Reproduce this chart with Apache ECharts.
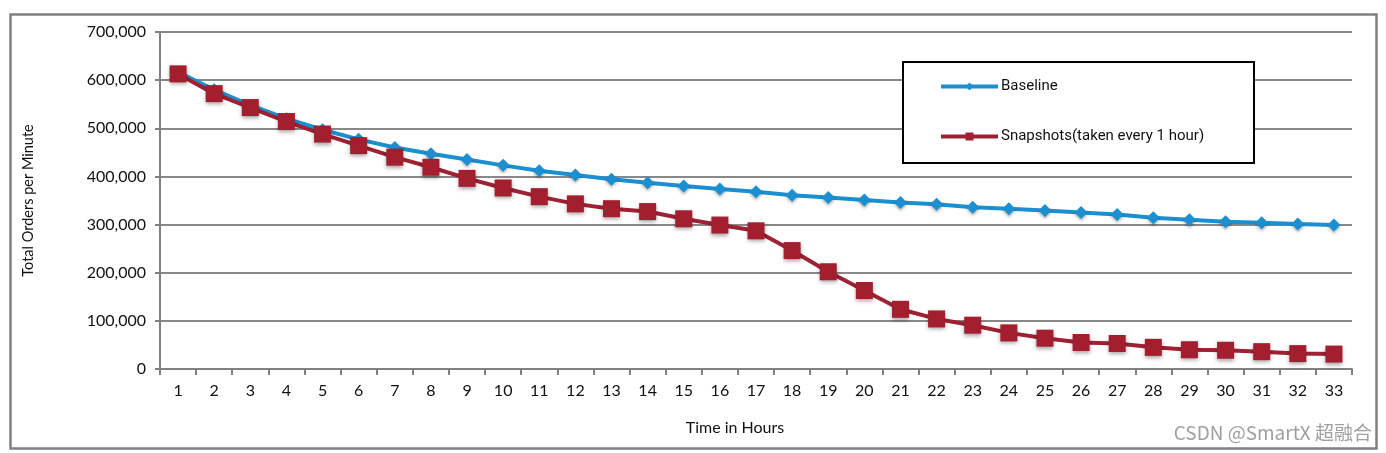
<!DOCTYPE html>
<html>
<head>
<meta charset="utf-8">
<script src="https://cdn.jsdelivr.net/npm/echarts@6/dist/echarts.min.js"></script>
<style>
html,body{margin:0;padding:0;background:#fff;}
#main{width:1386px;height:453px;}
</style>
</head>
<body>
<div id="main"></div>
<script>
var categories = ['1','2','3','4','5','6','7','8','9','10','11','12','13','14','15','16','17','18','19','20','21','22','23','24','25','26','27','28','29','30','31','32','33'];
var baseline = [617000,580000,548000,520000,497000,477000,460000,447000,435000,423000,412000,403000,394000,387000,380000,374000,368000,361000,356000,351000,346000,342000,336000,333000,329000,325000,321000,314000,310000,306000,304000,301000,299000];
var snapshots = [613000,572000,543000,514000,488000,464000,440000,419000,396000,376000,358000,343000,333000,327000,312000,299000,287000,246000,202000,163000,124000,104000,91000,75000,64000,55000,53000,45000,40000,39000,36000,32000,31000];
var yTicks = [0,100000,200000,300000,400000,500000,600000,700000];

var font = 'Lato, "Noto Sans", sans-serif';
var chart = echarts.init(document.getElementById('main'), null, {renderer:'canvas'});
chart.setOption({
  animation: false,
  backgroundColor: '#fff',
  grid: {left:160, right:34, top:32, bottom:84, containLabel:false},
  xAxis: {
    type: 'category',
    data: categories,
    boundaryGap: true,
    axisLine: {lineStyle:{color:'#808080', width:2}},
    axisTick: {show:true, length:6, lineStyle:{color:'#808080', width:2}, alignWithLabel:false},
    axisLabel: {color:'#111', fontSize:16, fontFamily:font, margin:14, interval:0}
  },
  yAxis: {
    type: 'value',
    min: 0, max: 700000, interval: 100000,
    axisLine: {show:true, lineStyle:{color:'#808080', width:2}},
    axisTick: {show:true, length:5, lineStyle:{color:'#808080', width:2}},
    splitLine: {lineStyle:{color:'#888', width:2}},
    axisLabel: {color:'#111', fontSize:16, fontFamily:font, margin:14,
      formatter: function(v){ return yTicks.indexOf(v) >= 0 ? v.toLocaleString('en-US') : ''; }},
    name: 'Total Orders per Minute',
    nameLocation: 'middle',
    nameGap: 124,
    nameTextStyle: {color:'#111', fontSize:14.5, fontFamily:font}
  },
  legend: {
    left: 939, top: 79,
    padding: 0,
    orient: 'vertical',
    itemWidth: 57, itemHeight: 10,
    itemGap: 35,
    z: 10,
    lineStyle: {width: 4},
    textStyle: {color:'#111', fontSize:15, fontFamily:'Roboto, sans-serif', padding:[0,0,0,-2]},
    data: ['Baseline','Snapshots(taken every 1 hour)']
  },
  graphic: [
    {type:'rect', left:8, top:12, shape:{width:1366, height:434}, style:{fill:'none', stroke:'#808080', lineWidth:2.5}, z:-1},
    {type:'rect', left:902, top:61, shape:{width:351, height:101}, style:{fill:'#fff', stroke:'#000', lineWidth:2}, z:1, zlevel:0},
    {type:'text', x:735, y:420, style:{text:'Time in Hours', fill:'#111', font:'16px ' + font, textAlign:'center'}},
    {type:'text', right:14, top:423, style:{text:'CSDN @SmartX 超融合', fill:'#a0a0a0', font:'19px "Noto Sans CJK SC", "Noto Sans", sans-serif'}}
  ],
  series: [
    {
      name: 'Baseline', type: 'line', data: baseline,
      symbol: 'diamond', symbolSize: 13,
      lineStyle: {color:'#1B8FD0', width:4},
      itemStyle: {color:'#1B8FD0', shadowBlur:3, shadowColor:'rgba(0,0,0,0.3)', shadowOffsetY:2},
      z: 2
    },
    {
      name: 'Snapshots(taken every 1 hour)', type: 'line', data: snapshots,
      symbol: 'rect', symbolSize: 17,
      lineStyle: {color:'#9E2233', width:4},
      itemStyle: {color:'#A31F30', shadowBlur:4, shadowColor:'rgba(0,0,0,0.35)', shadowOffsetY:2},
      z: 3
    }
  ]
});
</script>
</body>
</html>
